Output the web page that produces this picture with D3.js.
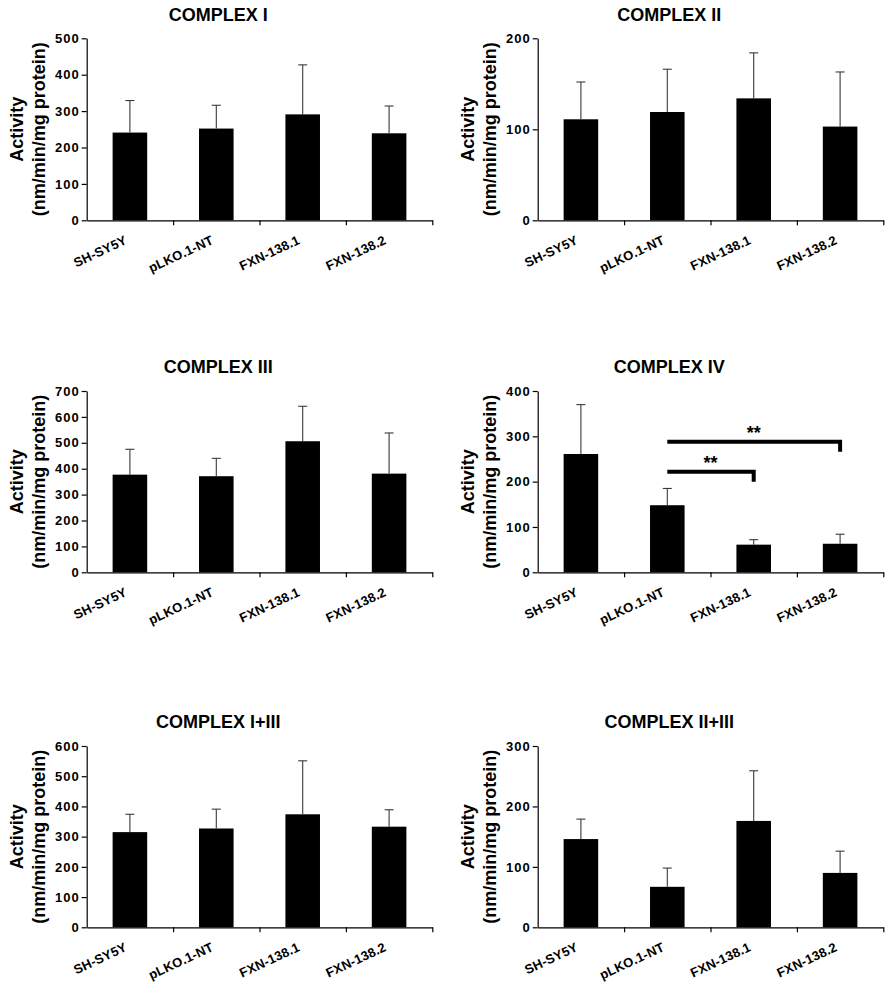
<!DOCTYPE html>
<html>
<head>
<meta charset="utf-8">
<script src="https://cdn.jsdelivr.net/npm/d3@7"></script>
<style>
  html, body { margin: 0; padding: 0; background: #fff; }
  svg { display: block; font-family: "Liberation Sans", Arial, Helvetica, sans-serif; }
</style>
</head>
<body>
<svg id="chart" width="892" height="991"></svg>
<script>
// ---------------- DATA ----------------
const categories = ["SH-SY5Y", "pLKO.1-NT", "FXN-138.1", "FXN-138.2"];

const titles = ["COMPLEX I", "COMPLEX II", "COMPLEX III", "COMPLEX IV", "COMPLEX I+III", "COMPLEX II+III"];

const complexI      = [241, 252, 291, 239];
const complexIErr   = [88, 64, 136, 75];
const complexII     = [111, 119, 134, 103];
const complexIIErr  = [41, 47, 50, 60];
const complexIII    = [377, 371, 506, 381];
const complexIIIErr = [98, 69, 135, 157];
const complexIV     = [261, 148, 61, 63];
const complexIVErr  = [109, 37, 11, 21];
const complexI_III     = [315, 327, 374, 333];
const complexI_IIIErr  = [59, 64, 177, 56];
const complexII_III    = [146, 67, 176, 90];
const complexII_IIIErr = [33, 31, 83, 36];

const yMax   = [500, 200, 700, 400, 600, 300];
const yTicks = [
  [0, 100, 200, 300, 400, 500],
  [0, 100, 200],
  [0, 100, 200, 300, 400, 500, 600, 700],
  [0, 100, 200, 300, 400],
  [0, 100, 200, 300, 400, 500, 600],
  [0, 100, 200, 300]
];

const yTitleLine1 = "Activity";
const yTitleLine2 = "(nm/min/mg protein)";

// significance brackets for COMPLEX IV (category indices, data-unit levels)
const sigFrom  = [1, 1];
const sigTo    = [2, 3];
const sigLevel = [222, 288];
const sigDrop  = [200, 266];
const sigLabel = ["**", "**"];

const seriesValues = [complexI, complexII, complexIII, complexIV, complexI_III, complexII_III];
const seriesErrors = [complexIErr, complexIIErr, complexIIIErr, complexIVErr, complexI_IIIErr, complexII_IIIErr];

// ---------------- LAYOUT ----------------
const plotW = 345.6;
const colLeft = [86.7, 537.7];
const rowTop = [38.3, 391, 746];
const rowBottom = [220.3, 572.3, 927.3];
const titleBaseline = [20.7, 372.7, 728];

const svg = d3.select("#chart");
const font = '"Liberation Sans", Arial, Helvetica, sans-serif';

titles.forEach((title, i) => {
  const col = i % 2, row = Math.floor(i / 2);
  const left = colLeft[col];
  const top = rowTop[row], bottom = rowBottom[row];
  const g = svg.append("g");

  const x = d3.scaleBand().domain(categories).range([left, left + plotW])
    .paddingInner(0.6).paddingOuter(0.3);
  const y = d3.scaleLinear().domain([0, yMax[i]]).range([bottom, top]);

  // title
  g.append("text")
    .attr("x", left + 131.5).attr("y", titleBaseline[row])
    .attr("text-anchor", "middle")
    .attr("font-size", 18).attr("font-weight", "bold").attr("fill", "#000")
    .text(title);

  // y axis title (two lines)
  const cy = (top + bottom) / 2;
  g.append("text")
    .attr("transform", `translate(${left - 64},${cy}) rotate(-90)`)
    .attr("text-anchor", "middle").attr("font-size", 18).attr("font-weight", "bold")
    .text(yTitleLine1);
  g.append("text")
    .attr("transform", `translate(${left - 42},${cy}) rotate(-90)`)
    .attr("text-anchor", "middle").attr("font-size", 18).attr("font-weight", "bold")
    .text(yTitleLine2);

  // bars
  const vals = seriesValues[i], errs = seriesErrors[i];
  g.selectAll("rect.bar").data(categories).enter().append("rect")
    .attr("class", "bar")
    .attr("x", d => x(d)).attr("width", x.bandwidth())
    .attr("y", (d, k) => y(vals[k])).attr("height", (d, k) => y(0) - y(vals[k]))
    .attr("fill", "#000");

  // error bars (upper only)
  const eb = g.selectAll("g.err").data(categories).enter().append("g").attr("class", "err");
  eb.append("line")
    .attr("x1", d => x(d) + x.bandwidth() / 2).attr("x2", d => x(d) + x.bandwidth() / 2)
    .attr("y1", (d, k) => y(vals[k])).attr("y2", (d, k) => y(vals[k] + errs[k]))
    .attr("stroke", "#3a3a3a").attr("stroke-width", 1.1);
  eb.append("line")
    .attr("x1", d => x(d) + x.bandwidth() / 2 - 4.5).attr("x2", d => x(d) + x.bandwidth() / 2 + 4.5)
    .attr("y1", (d, k) => y(vals[k] + errs[k])).attr("y2", (d, k) => y(vals[k] + errs[k]))
    .attr("stroke", "#3a3a3a").attr("stroke-width", 1.1);

  // y axis
  const yAxis = g.append("g").attr("transform", `translate(${left},0)`)
    .call(d3.axisLeft(y).tickValues(yTicks[i]).tickFormat(d3.format("d")).tickSize(5).tickSizeOuter(0).tickPadding(2));
  yAxis.select(".domain").attr("stroke", "#000").attr("stroke-width", 1.2);
  yAxis.selectAll(".tick line").attr("stroke", "#000").attr("stroke-width", 1.2);
  yAxis.selectAll(".tick text")
    .attr("font-family", font).attr("font-size", 13).attr("font-weight", "bold")
    .attr("letter-spacing", 1).attr("fill", "#000");

  // x axis with ticks at category boundaries
  const xb = d3.scaleLinear().domain([0, categories.length]).range([left, left + plotW]);
  const xAxis = g.append("g").attr("transform", `translate(0,${bottom})`)
    .call(d3.axisBottom(xb).tickValues(d3.range(1, categories.length + 1)).tickFormat("").tickSize(5).tickSizeOuter(0));
  xAxis.select(".domain").attr("stroke", "#000").attr("stroke-width", 1.2);
  xAxis.selectAll(".tick line").attr("stroke", "#000").attr("stroke-width", 1.2);

  // category labels, rotated
  g.selectAll("text.cat").data(categories).enter().append("text")
    .attr("class", "cat")
    .attr("transform", d => `translate(${x(d) + x.bandwidth() / 2 - 2},${bottom + 23}) rotate(-25)`)
    .attr("text-anchor", "end")
    .attr("font-size", 13).attr("font-weight", "bold").attr("letter-spacing", 0.2).attr("fill", "#000")
    .text(d => d);

  // significance (COMPLEX IV)
  if (i === 3) {
    const cx = k => x(categories[k]) + x.bandwidth() / 2;
    sigFrom.forEach((f, s) => {
      const x1 = cx(f), x2 = cx(sigTo[s]);
      g.append("path")
        .attr("d", `M${x1},${y(sigLevel[s])}H${x2}V${y(sigDrop[s])}`)
        .attr("fill", "none").attr("stroke", "#000").attr("stroke-width", 4)
        .attr("stroke-linejoin", "miter");
      g.append("text")
        .attr("x", (x1 + x2) / 2).attr("y", y(sigLevel[s]) - 3)
        .attr("text-anchor", "middle").attr("font-size", 18).attr("font-weight", "bold")
        .text(sigLabel[s]);
    });
  }
});
</script>
</body>
</html>
